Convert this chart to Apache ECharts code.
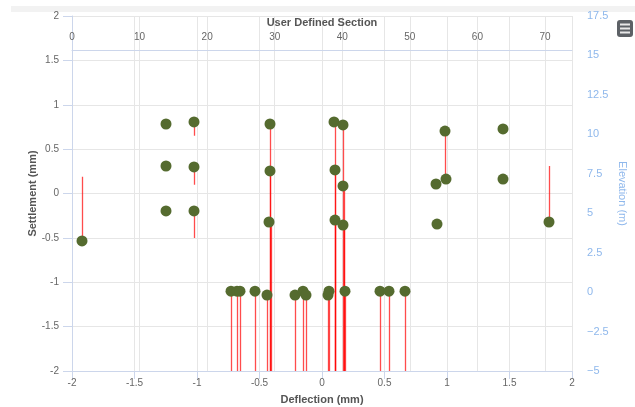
<!DOCTYPE html>
<html>
<head>
<meta charset="utf-8">
<script src="https://cdn.jsdelivr.net/npm/echarts@6/dist/echarts.min.js"></script>
<style>
  html, body { margin: 0; padding: 0; background: #fff; }
  #chart { width: 635px; height: 407px; }
</style>
</head>
<body>
<div id="chart"></div>
<script>
// green points, [deflection (mm), settlement (mm)]
const upperPoints = [
  [-1.92, -0.535],
  [-1.248, 0.783], [-1.248, 0.31], [-1.248, -0.197],
  [-1.024, 0.806], [-1.024, 0.299], [-1.024, -0.197],
  [-0.416, 0.783], [-0.416, 0.254], [-0.424, -0.321],
  [0.096, 0.806], [0.104, 0.265], [0.104, -0.299],
  [0.168, 0.772], [0.168, 0.085], [0.168, -0.355],
  [0.912, 0.107], [0.92, -0.344],
  [0.984, 0.704], [0.992, 0.163],
  [1.448, 0.727], [1.448, 0.163],
  [1.816, -0.321]
]
const lowerPoints = [
  [-0.728, -1.1], [-0.68, -1.1], [-0.656, -1.1], [-0.536, -1.1],
  [-0.44, -1.145], [-0.216, -1.145], [-0.152, -1.1], [-0.128, -1.145],
  [0.048, -1.145], [0.056, -1.1], [0.184, -1.1],
  [0.464, -1.1], [0.536, -1.1], [0.664, -1.1]
]
// red sticks, [deflection, from, to]
const sticks = [
  [-1.92, 0.19, -0.535],
  [-1.024, 0.806, 0.65], [-1.024, 0.299, 0.1], [-1.024, -0.197, -0.5],
  [-0.416, 0.783, -2], [-0.416, 0.254, -2], [-0.41, -0.321, -2],
  [0.104, 0.806, -2], [0.106, 0.265, -2], [0.108, -0.299, -2],
  [0.17, 0.772, -2], [0.174, 0.085, -2], [0.178, -0.355, -2],
  [0.984, 0.704, 0.163],
  [1.816, 0.31, -0.321]
].concat(lowerPoints.map(p => [p[0], p[1], -2]))

const deflectionRange = [-2, 2, 0.5]
const settlementRange = [-2, 2, 0.5]
const sectionRange = [0, 74, 10]
const elevationRange = [-5, 17.5, 2.5]

const font = 'Liberation Sans'
const axisColor = '#ccd6eb'
const gridColor = '#e6e6e6'

const myChart = echarts.init(document.getElementById('chart'))
const option = {
  backgroundColor: '#fff',
  animation: false,
  textStyle: { fontFamily: font },
  grid: { left: 72, right: 63, top: 16, bottom: 36, outerBoundsMode: 'none', containLabel: false },
  graphic: [
    { type: 'rect', shape: { x: 11, y: 6, width: 624, height: 6 }, style: { fill: '#f2f2f2' } },
    { type: 'rect', shape: { x: 617, y: 20, width: 16, height: 17, r: 3 }, style: { fill: '#5d6166' } },
    { type: 'rect', shape: { x: 620, y: 23.5, width: 10, height: 2 }, style: { fill: '#e8e8e8' } },
    { type: 'rect', shape: { x: 620, y: 27.5, width: 10, height: 2 }, style: { fill: '#e8e8e8' } },
    { type: 'rect', shape: { x: 620, y: 31.5, width: 10, height: 2 }, style: { fill: '#e8e8e8' } }
  ],
  xAxis: [
    {
      type: 'value',
      position: 'bottom',
      min: deflectionRange[0], max: deflectionRange[1], interval: deflectionRange[2],
      name: 'Deflection (mm)',
      nameLocation: 'middle',
      nameGap: 23,
      nameMoveOverlap: false,
      nameTextStyle: { color: '#555', fontSize: 11, fontWeight: 'bold' },
      axisLine: { show: true, onZero: false, lineStyle: { color: axisColor } },
      axisTick: { show: true, length: 8, lineStyle: { color: axisColor } },
      axisLabel: { color: '#666', fontSize: 10, margin: 7 },
      splitLine: { show: true, lineStyle: { color: gridColor } }
    },
    {
      type: 'value',
      position: 'top',
      offset: -34,
      min: sectionRange[0], max: sectionRange[1], interval: sectionRange[2],
      name: 'User Defined Section',
      nameLocation: 'middle',
      nameGap: 22,
      nameMoveOverlap: false,
      nameTextStyle: { color: '#555', fontSize: 11, fontWeight: 'bold' },
      axisLine: { show: true, onZero: false, lineStyle: { color: axisColor } },
      axisTick: { show: false },
      axisLabel: { color: '#666', fontSize: 10, margin: 8, showMaxLabel: false },
      splitLine: { show: true, lineStyle: { color: gridColor } }
    }
  ],
  yAxis: [
    {
      type: 'value',
      position: 'left',
      min: settlementRange[0], max: settlementRange[1], interval: settlementRange[2],
      name: 'Settlement (mm)',
      nameLocation: 'middle',
      nameGap: 34,
      nameMoveOverlap: false,
      nameTextStyle: { color: '#555', fontSize: 11, fontWeight: 'bold' },
      axisLine: { show: true, onZero: false, lineStyle: { color: axisColor } },
      axisTick: { show: true, length: 9, lineStyle: { color: axisColor } },
      axisLabel: { color: '#666', fontSize: 10, margin: 13 },
      splitLine: { show: true, lineStyle: { color: gridColor } }
    },
    {
      type: 'value',
      position: 'right',
      min: elevationRange[0], max: elevationRange[1], interval: elevationRange[2],
      name: 'Elevation (m)',
      nameLocation: 'middle',
      nameRotate: -90,
      nameGap: 45,
      nameMoveOverlap: false,
      nameTextStyle: { color: '#8fb8ec', fontSize: 11 },
      axisLine: { show: false, onZero: false },
      axisTick: { show: false },
      axisLabel: {
        color: '#8fb8ec', fontSize: 11, margin: 15,
        formatter: v => String(v).replace('-', '\u2212')
      },
      splitLine: { show: false }
    }
  ],
  series: [
    {
      name: 'sticks',
      type: 'lines',
      coordinateSystem: 'cartesian2d',
      xAxisIndex: 0, yAxisIndex: 0,
      z: 1,
      silent: true,
      lineStyle: { color: 'rgba(255,0,0,0.7)', width: 1.3, opacity: 1 },
      data: sticks.map(s => ({ coords: [[s[0], s[1]], [s[0], s[2]]] }))
    },
    {
      name: 'points',
      type: 'scatter',
      xAxisIndex: 0, yAxisIndex: 0,
      z: 3,
      symbolSize: 11,
      itemStyle: { color: '#556b2f', opacity: 1 },
      data: upperPoints.concat(lowerPoints)
    }
  ]
}
option && myChart.setOption(option)
</script>
</body>
</html>
